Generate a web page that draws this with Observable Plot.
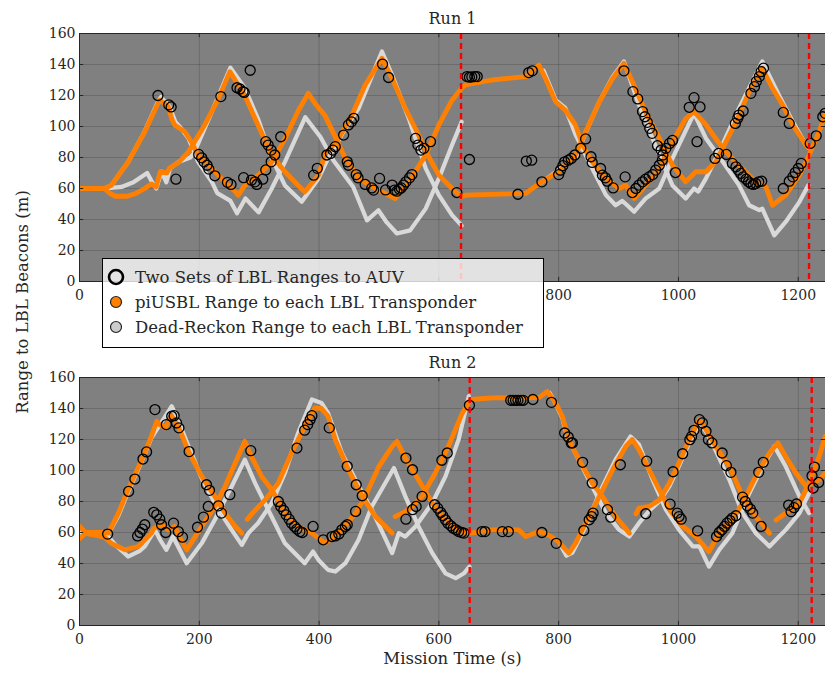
<!DOCTYPE html>
<html><head><meta charset="utf-8">
<script src="https://cdn.jsdelivr.net/npm/d3@7"></script>
<script src="https://cdn.jsdelivr.net/npm/@observablehq/plot@0.6"></script>
<style>
body{margin:0;background:#fff;font-family:"DejaVu Serif",serif;color:#262626}
#wrap{position:relative;width:825px;height:673px;overflow:hidden}
#top,#bot{position:absolute;left:0}
#top{top:0}
#bot{top:343.5px}
#ylab{position:absolute;left:22px;top:302px;transform:translate(-50%,-50%) rotate(-90deg);white-space:nowrap;font-size:16.5px}
#legend{position:absolute;left:102px;top:258px;width:440px;height:82px;border:1px solid #000;background:rgba(255,255,255,0.77);padding-top:5.5px;box-sizing:content-box;z-index:5;font-size:16.5px}
#legend .row{height:25px;display:flex;align-items:center;white-space:nowrap}
#legend svg{margin-left:3px;margin-right:9px;flex:none}
</style></head><body>
<div id="wrap">
<div id="top"></div><div id="bot"></div>
<div id="ylab">Range to LBL Beacons (m)</div>
<div id="legend">
 <div class="row"><svg width="20" height="20"><circle cx="10" cy="10" r="7" fill="none" stroke="#000" stroke-width="2.6"/></svg><span>Two Sets of LBL Ranges to AUV</span></div>
 <div class="row"><svg width="20" height="20"><circle cx="10" cy="10" r="5.5" fill="#ff8000" stroke="#222" stroke-width="1.2"/></svg><span>piUSBL Range to each LBL Transponder</span></div>
 <div class="row"><svg width="20" height="20"><circle cx="10" cy="10" r="5.5" fill="#cccccc" stroke="#222" stroke-width="1.2"/></svg><span>Dead-Reckon Range to each LBL Transponder</span></div>
</div>
</div>
<script>
// ---------- axes ----------
const xTicks = [0, 200, 400, 600, 800, 1000, 1200];
const yTicks = [0, 20, 40, 60, 80, 100, 120, 140, 160];
const topXLabels = [0, 800, 1000, 1200];
const botXLabels = [0, 200, 400, 600, 800, 1000, 1200];
const titles = ["Run 1", "Run 2"];
const xLabel = "Mission Time (s)";
const redRun1 = [637, 1218];
const redRun2 = [651.5, 1222.5];

// ---------- Run 1 ----------
const r1UsblA = [[0,60],[42,60],[53,62],[81,77],[109,96.6],[131,115],[134,117],[148,113],[154,105],[159,101],[176,96.6],[187,90],[198,81.5],[221,73],[243,64],[260,58],[265,55.7],[276,62],[298,68.6],[321,77],[343,92],[365,110],[382,121.4],[393,115],[410,107],[444,79.4],[466,66.5],[494,60],[527,53.5],[550,64.3],[578,81.6],[600,101],[622,117],[638,124.7],[644,126.8],[689,130],[745,132.2],[767,139.7],[778,131],[795,116],[811,110.6],[828,101],[840,88],[856,77.2],[879,66.5],[901,60],[912,62.2],[926,53.5],[945,62],[968,73],[990,90],[1012,105],[1026,109.6],[1046,101],[1062,92.3],[1079,83.7],[1101,75],[1129,64.3],[1146,61],[1157,49.2],[1179,55.7],[1202,68.6],[1218,81.6],[1235,96.6],[1245,108.5]];
const r1UsblB = [[0,60],[42,60],[50,57],[60,55],[80,55],[95,57],[109,60],[120,63],[128,61],[135,71],[146,70],[150,73],[166,77],[182,83.7],[209,101],[232,118],[251,135.4],[276,120],[298,101],[321,81.5],[343,70.8],[365,62],[376,57.8],[399,68.6],[410,82],[433,92.3],[455,107.4],[477,126.8],[505,144],[522,131],[544,111.7],[566,94.5],[583,80.5],[600,68.6],[622,60],[638,54.6],[644,55.7],[745,56.8],[756,60],[772,64.3],[800,70.8],[828,81.6],[845,96.6],[868,116],[890,131],[909,140.8],[923,129],[945,109.6],[968,92.3],[990,75],[1012,64.3],[1029,70.8],[1046,70.8],[1062,77.2],[1074,86],[1096,103],[1118,122.5],[1140,137.6],[1157,124.7],[1174,113.9],[1191,101],[1213,88],[1222,85]];
const r1DrA = [[0,60],[42,60],[53,62],[81,77],[109,97],[131,116],[136,119],[150,113],[160,103],[170,98.7],[182,92.3],[198,77.2],[221,64.3],[230,57],[252,52],[263,44],[277,53.6],[299,44.6],[321,60],[343,77.2],[377,106],[402,93.4],[424,78],[457,61],[480,39.4],[499,46],[513,38.1],[530,31],[552,33],[578,47],[600,66.5],[622,88],[638,103]];
const r1DrB = [[0,60],[42,60],[70,61],[90,64],[113,70],[120,65],[128,60],[137,71],[145,64],[151,73],[165,77],[185,80],[191,82.6],[221,109.6],[252,138],[276,124.7],[298,105],[321,79.4],[343,62],[371,51.4],[399,66.5],[415,79.4],[444,98.8],[466,111.7],[505,148.4],[522,133],[550,105],[578,73],[600,55.7],[622,42.8],[638,36]];
const r1DrA2 = [[775,136],[795,117],[811,112],[828,95],[856,73],[879,55.7],[895,49.2],[906,52],[912,50],[926,45],[945,53.5],[968,60],[990,79.4],[1026,108.5],[1046,92.3],[1074,77.2],[1101,62.2],[1118,49.2],[1135,46],[1140,47],[1160,29.8],[1179,38.4],[1202,51.4],[1217,62.2]];
const r1DrB2 = [[772,64],[800,72],[828,80],[845,96],[868,116],[890,132],[909,141.9],[934,114],[968,81.6],[990,62],[1012,53.5],[1026,60],[1033,58],[1046,66.5],[1068,83.7],[1101,111.7],[1140,142],[1168,120],[1191,103],[1213,88],[1218,86]];
const run1Lbl = [[131,120],[149,114],[153,112.6],[161,66],[236,119.3],[263,125],[268,124.2],[273,122.5],[275,122],[285,136.3],[199,82],[204,79.8],[208,77.2],[213,75],[216,72.5],[226,68.2],[247,64],[253,62.6],[274,67],[287,65.4],[293,64.3],[296,62.6],[306,66],[311,72],[320,77.2],[311,90.2],[315,88],[320,84.8],[326,81.6],[336,93.4],[391,68.6],[397,73],[413,81.6],[419,82.6],[423,84.8],[427,87],[441,94.5],[449,101],[454,103],[458,105.3],[506,140.2],[516,131.6],[447,77.2],[449,75],[462,69],[465,66.9],[477,62.6],[488,60.4],[491,59],[501,66.5],[511,59.1],[522,62.2],[526,59],[530,58.3],[534,59.6],[537,60.4],[541,62.2],[545,64.3],[551,66.9],[555,69],[561,92.3],[565,88],[570,84.8],[575,85.9],[586,90.2],[630,57.4],[647,132.2],[651,131.8],[655,132],[660,132.2],[664,132.2],[651,78.7],[732,56.3],[746,77.7],[755,78.3],[750,134.8],[756,135.9],[772,64.3],[800,69],[803,71.8],[807,74.7],[810,77.2],[816,78.3],[821,79.4],[827,81.6],[837,85.9],[845,92],[854,80.5],[856,76.8],[870,72.9],[873,68.6],[878,66.9],[881,64.7],[891,60.4],[909,135.9],[924,122.5],[932,117.8],[940,109.6],[944,106.3],[948,102.7],[952,98.8],[956,95.6],[965,87.6],[971,84.8],[974,81.6],[979,85.9],[985,89.1],[990,91],[995,70.3],[911,67.5],[923,57.4],[929,60],[934,62.2],[940,64.3],[945,66],[951,67.5],[957,69],[962,71.9],[968,75],[973,78.3],[1018,112.4],[1026,118.6],[1036,112.6],[1031,90.2],[1061,79.4],[1067,82.6],[1080,82],[1090,76.2],[1096,74],[1100,71.9],[1104,69.7],[1108,67.5],[1113,66],[1117,64.3],[1121,63.2],[1125,62.6],[1129,63.2],[1134,64.3],[1139,64.7],[1095,102],[1099,105.3],[1101,107.4],[1108,110],[1121,121.4],[1127,125.7],[1130,129],[1135,132.2],[1138,135.4],[1142,137.6],[1175,109.1],[1185,102],[1175,60],[1185,64.7],[1191,67.5],[1195,70.3],[1200,72.9],[1205,76.2],[1220,89.1],[1230,94],[1241,106.3],[1245,108.5]];

// ---------- Run 2 ----------
const r2UsblA = [[0,64],[10,60],[42,60],[48,59.6],[65,72.5],[81,87.6],[104,107],[120,122],[129,131.8],[134,129.6],[143,127.5],[154,135],[165,128.5],[182,112.4],[204,96.2],[226,83.3],[243,72.5],[260,63.9],[271,59.6],[276,null],[280,68.5],[290,73],[310,81],[332,92],[354,111.3],[376,128.5],[393,140.4],[404,140],[415,135],[427,120],[449,100.5],[472,83.3],[494,70.3],[522,59.6],[524,null],[527,70.3],[550,74.7],[572,83.3],[594,98.4],[616,115.6],[639,137],[653,145.8],[689,146.9],[767,147],[781,151],[795,143.6],[806,135],[817,120],[828,111.3],[840,102.7],[856,91.9],[873,83.3],[895,70.3],[918,59.6],[923,null],[929,72],[934,75.7],[951,76.8],[968,81],[985,91.9],[1001,104.8],[1018,119.9],[1035,132.8],[1046,126.4],[1062,115.6],[1085,102.7],[1107,83.3],[1129,70.3],[1152,59.6],[1158,null],[1163,68],[1179,72.5],[1202,79],[1218,91.9],[1235,109],[1245,122]];
const r2UsblB = [[0,56],[10,59.5],[42,57],[53,53],[76,48.8],[98,51],[120,59.6],[124,62.7],[137,65],[148,61.7],[159,63.9],[170,55],[179,48.8],[204,63.9],[226,76.8],[243,89.7],[260,104.8],[276,118.8],[287,109],[304,96.2],[321,87.6],[343,72.5],[365,63.9],[388,59.6],[410,53],[438,61.7],[461,72.5],[477,83.3],[500,102.7],[522,115.6],[530,118.8],[544,108],[566,94],[589,79],[611,68.2],[633,60.6],[653,59.6],[689,61.7],[733,61.7],[745,57.4],[767,60.6],[780,59],[800,54],[817,46.7],[828,53],[845,66],[868,83.3],[890,100.5],[912,115.6],[923,120],[934,113.5],[951,100.5],[968,87.6],[985,74.7],[1007,63.9],[1029,57.4],[1051,47.7],[1068,59.6],[1090,68.2],[1107,79],[1129,96.2],[1152,111.3],[1166,117.8],[1179,109],[1196,98.4],[1213,89.7],[1224,92],[1235,94],[1245,98.4]];
const r2DrA = [[0,60],[42,60],[48,59],[65,71],[81,86],[104,106],[120,121],[140,133],[154,141.5],[165,132],[182,115.6],[204,95],[232,74.7],[254,61.7],[271,52],[282,59.6],[298,66],[321,79],[343,98.4],[365,124.2],[388,145.8],[404,143.6],[415,137],[438,111.3],[466,90],[488,74.7],[522,46.7],[533,59.6],[544,57.4],[561,63.9],[589,79],[611,96.2],[633,120],[650,148]];
const r2DrB = [[0,60],[42,60],[60,52],[81,44.5],[100,48],[109,51],[126,61.7],[135,55],[145,48.8],[156,57.4],[179,40.2],[204,53],[226,68.2],[254,89.7],[276,107],[293,92],[315,74.7],[343,53],[376,40.2],[390,47.7],[399,42.3],[415,35.9],[427,34.8],[444,40.2],[466,55.3],[488,76.8],[525,101.6],[544,83.3],[566,63.9],[589,46.7],[611,33.7],[628,30.5],[642,33.7],[651,38]];
const r2DrA2 = [[785,150],[795,143],[806,134],[817,118],[823,115],[856,89.7],[879,72.5],[901,61.7],[918,57.4],[934,66],[951,74],[968,80],[985,90],[1001,103],[1018,118],[1035,130.7],[1046,125],[1062,113],[1085,94],[1107,72.5],[1129,59.6],[1152,51],[1168,57.4],[1179,61.7],[1202,72.5],[1218,85.4]];
const r2DrB2 = [[800,54],[813,45],[823,47],[845,63.9],[868,85.4],[895,107],[920,122],[934,116.7],[957,94],[979,74.7],[1001,61.7],[1024,51],[1035,51],[1051,38],[1068,48.8],[1090,59.6],[1113,81],[1135,98.4],[1160,115.6],[1179,102.7],[1202,83.3],[1218,72.5]];
const run2Lbl = [[47,59],[82,86.5],[92.5,94.5],[106,107.4],[112,112],[126,139.3],[145,129.6],[154,135],[158,135.4],[162,130.7],[166,127.5],[183,112.2],[97,57.8],[101,60],[105,62.2],[109,65],[124,73],[129,71.4],[134,68.6],[137,65],[144,60],[157,66],[165,60.6],[172,57],[212,90.8],[217,87.2],[215,76.8],[207,69.9],[197,63.4],[232,77.2],[237,72.5],[251,84.4],[286,112.8],[332,80],[336,76.8],[341,74.2],[345,71.4],[350,68.6],[354,66],[359,63.9],[363,62.2],[368,60.6],[372,60],[390,63.9],[407,55.3],[363,114.5],[376,126],[381,129.6],[385,132.8],[388,135.4],[417,127.5],[447,102.7],[462,90.8],[472,83.7],[461,73.6],[421.5,57.4],[427,57.8],[433,59.1],[438,61.7],[444,63.9],[447,65],[545,108],[556,100.5],[545,68.6],[556,74.7],[562,76.8],[572,83.3],[593,77.9],[598,75.7],[603,72.9],[606.5,70.8],[611,68.2],[615,66],[620,64.3],[624,62.8],[629,61.7],[633,60.6],[638,60],[642,59.6],[605,106.6],[614,111.3],[651,142.1],[672,60.6],[677,60.6],[706,60.6],[716,60.6],[720,145.3],[724,145.3],[728,145.3],[732,145.3],[737,145.3],[741,145.3],[757,145.8],[772,60],[788,144],[796,53],[810,124.2],[816,121.6],[821,117.8],[823,117.8],[840,105.3],[856,91.9],[842,61.3],[851,68.2],[855,70.3],[857.5,72.5],[881.5,74.7],[887,69.9],[903,103.7],[947,106],[945.5,72.1],[986,78.3],[991,99.2],[998,72.5],[1001,70.3],[1004.6,68.6],[1007,110.8],[1019,119.9],[1022,122],[1026,125.9],[1035,132.8],[1040,130.7],[1046,125.3],[1050,119.9],[1056,117.8],[1073,111.3],[1080,103.1],[1087.6,98.8],[1032,61.1],[1063.6,57.4],[1068,60],[1072.5,61.7],[1077,63.9],[1081,66],[1086,67.7],[1090,69.3],[1096,70.8],[1107,82.8],[1111.5,80],[1115,77.2],[1120,75.1],[1124,72.5],[1138,63.9],[1134,98.8],[1141.6,105.3],[1184,77.7],[1188,73.5],[1193,76],[1197,78.4],[1223,96.6],[1227,102.2],[1225,88.7],[1234,92.3]];

// ---------- drawing ----------
const rows = (list) => list.flatMap(([name, pts]) => pts.map(([t, v]) => ({t, v, s: name})));
const fmt = d => String(d);

function panel({title, dr, usbl, lbl, red, labels, bottomLabel}) {
  const marks = [
    Plot.frame({fill: "#808080"}),
    Plot.gridX(xTicks, {stroke: "#000", strokeOpacity: 0.16}),
    Plot.gridY(yTicks, {stroke: "#000", strokeOpacity: 0.16}),
    Plot.line(rows(dr), {x: "t", y: "v", z: "s", stroke: "#d9d9d9", strokeWidth: 4.2, strokeLinejoin: "round", strokeLinecap: "round", clip: true}),
    Plot.line(rows(usbl), {x: "t", y: "v", z: "s", stroke: "#ff8000", strokeWidth: 4.8, strokeLinejoin: "round", strokeLinecap: "round", clip: true}),
    Plot.dot(lbl, {x: d => d[0], y: d => d[1], r: 5, stroke: "#000", strokeWidth: 1.3, fill: "none", clip: true}),
    Plot.ruleX(red, {stroke: "#ff0000", strokeWidth: 2.4, strokeDasharray: "6,4"}),
    Plot.frame({stroke: "#262626"}),
    Plot.ruleY(yTicks, {x1: 0, x2: 7, stroke: "#262626"}),
    Plot.ruleY(yTicks, {x1: 1238.5, x2: 1245.5, stroke: "#262626"}),
    Plot.ruleX(xTicks, {y1: 0, y2: 2.7, stroke: "#262626"}),
    Plot.ruleX(xTicks, {y1: 157.3, y2: 160, stroke: "#262626"}),
    Plot.axisX(labels, {tickSize: 0, tickPadding: 9, fontSize: 14, label: null, tickFormat: fmt}),
    Plot.axisY(yTicks, {tickSize: 0, tickPadding: 4, fontSize: 14, label: null, tickFormat: fmt}),
    Plot.text([title], {frameAnchor: "top", dy: -21, fontSize: 16})
  ];
  if (bottomLabel) marks.push(Plot.text([bottomLabel], {frameAnchor: "bottom", dy: 38.5, fontSize: 16.5}));
  return Plot.plot({
    width: 825,
    height: bottomLabel ? 329.5 : 311,
    marginLeft: 79, marginRight: 0, marginTop: 33, marginBottom: bottomLabel ? 48.5 : 30,
    x: {domain: [0, 1245.5]},
    y: {domain: [0, 160]},
    style: {fontFamily: '"DejaVu Serif", serif', fontSize: "14px", color: "#262626", background: "none", overflow: "visible"},
    marks
  });
}

document.getElementById("top").appendChild(panel({
  title: titles[0],
  dr: [["a", r1DrA], ["b", r1DrB], ["a2", r1DrA2], ["b2", r1DrB2]],
  usbl: [["a", r1UsblA], ["b", r1UsblB]],
  lbl: run1Lbl, red: redRun1, labels: topXLabels
}));
document.getElementById("bot").appendChild(panel({
  title: titles[1],
  dr: [["a", r2DrA], ["b", r2DrB], ["a2", r2DrA2], ["b2", r2DrB2]],
  usbl: [["a", r2UsblA], ["b", r2UsblB]],
  lbl: run2Lbl, red: redRun2, labels: botXLabels, bottomLabel: xLabel
}));
</script>
</body></html>
